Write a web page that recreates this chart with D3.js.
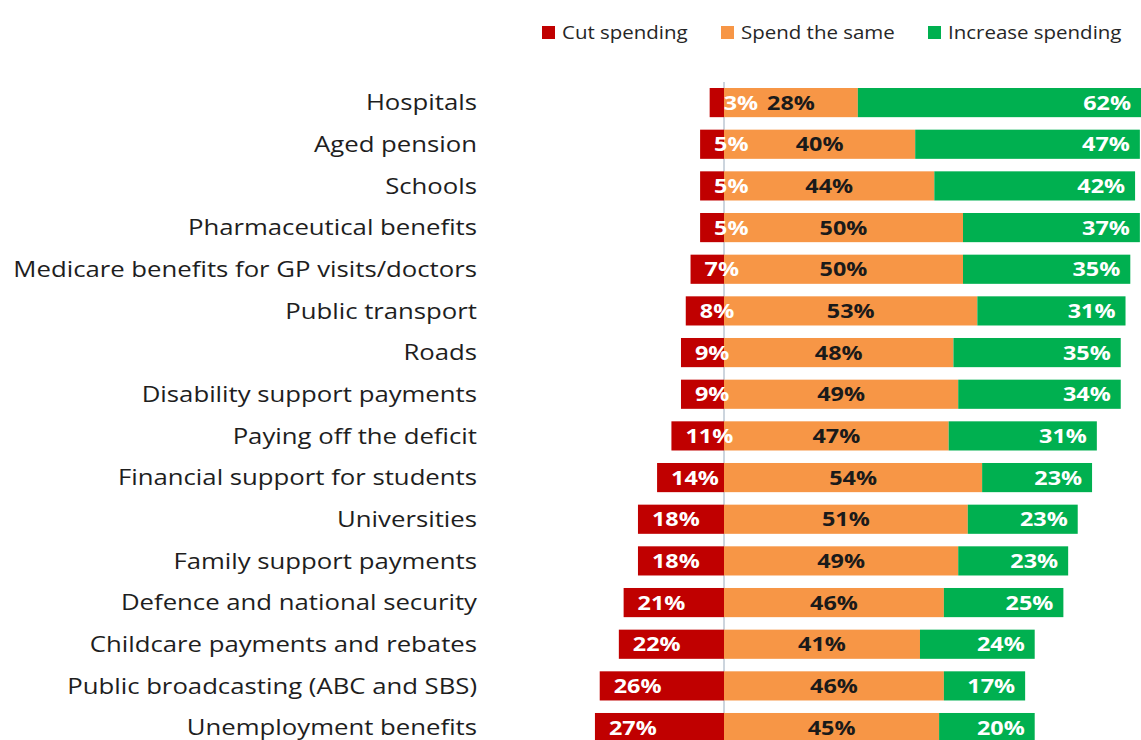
<!DOCTYPE html>
<html>
<head>
<meta charset="utf-8">
<script src="https://cdn.jsdelivr.net/npm/d3@7"></script>
<style>
  body { margin: 0; background: #fff; }
  svg { display: block; font-family: "Open Sans", Lato, sans-serif; }
</style>
</head>
<body>
<div class="chart_area"></div>
<script>
var categories = ["Hospitals", "Aged pension", "Schools", "Pharmaceutical benefits",
  "Medicare benefits for GP visits/doctors", "Public transport", "Roads",
  "Disability support payments ", "Paying off the deficit", "Financial support for students",
  "Universities", "Family support payments", "Defence and national security",
  "Childcare payments and rebates", "Public broadcasting (ABC and SBS)", "Unemployment benefits"];

var cut_spending      = [3, 5, 5, 5, 7, 8, 9, 9, 11, 14, 18, 18, 21, 22, 26, 27];
var spend_same        = [28, 40, 44, 50, 50, 53, 48, 49, 47, 54, 51, 49, 46, 41, 46, 45];
var increase_spending = [62, 47, 42, 37, 35, 31, 35, 34, 31, 23, 23, 23, 25, 24, 17, 20];

var series_names  = ["Cut spending", "Spend the same", "Increase spending"];
var series_colors = ["#c00000", "#f79646", "#00b050"];

var width = 1141, height = 740;

var svg = d3.select(".chart_area")
    .append("svg")
    .attr("width", width)
    .attr("height", height);

// the source picture is stretched sideways, so text gets a horizontal scale
var probe = svg.append("text")
    .style("font-size", "22px")
    .text(categories[4]);
var sx = 464 / probe.node().getComputedTextLength();
probe.remove();

function place(px, py) {
    return "translate(" + px + "," + py + ") scale(" + sx + ",1)";
}

// zero sits at x=724, about 4.78px per percent
var x = d3.scaleLinear()
    .domain([-30, 90])
    .range([724 - 30 * 4.78, 724 + 90 * 4.78]);

var y = d3.scaleBand()
    .domain(categories)
    .range([81.75, 748.4])
    .paddingInner(0.3)
    .paddingOuter(0.15);

var rows = categories.map(function(c, i) {
    return { name: c, cut: cut_spending[i], same: spend_same[i], inc: increase_spending[i] };
});

function mid(d) { return y(d.name) + y.bandwidth() / 2; }

// category labels
svg.append("g")
    .selectAll("text")
    .data(rows)
    .enter()
    .append("text")
    .attr("transform", function(d) { return place(477, mid(d)); })
    .attr("dy", "0.35em")
    .attr("text-anchor", "end")
    .style("font-size", "22px")
    .style("fill", "#1e1e1e")
    .text(function(d) { return d.name; });

// zero line
svg.append("line")
    .attr("x1", x(0)).attr("x2", x(0))
    .attr("y1", 82).attr("y2", height)
    .style("stroke", "#9aabbd")
    .style("stroke-width", 1);

var bars = svg.append("g");

bars.selectAll(".cut")
    .data(rows).enter().append("rect")
    .attr("x", function(d) { return x(-d.cut); })
    .attr("y", function(d) { return y(d.name); })
    .attr("width", function(d) { return x(0) - x(-d.cut); })
    .attr("height", y.bandwidth())
    .attr("fill", series_colors[0]);

bars.selectAll(".same")
    .data(rows).enter().append("rect")
    .attr("x", x(0))
    .attr("y", function(d) { return y(d.name); })
    .attr("width", function(d) { return x(d.same) - x(0); })
    .attr("height", y.bandwidth())
    .attr("fill", series_colors[1]);

bars.selectAll(".inc")
    .data(rows).enter().append("rect")
    .attr("x", function(d) { return x(d.same); })
    .attr("y", function(d) { return y(d.name); })
    .attr("width", function(d) { return x(d.same + d.inc) - x(d.same); })
    .attr("height", y.bandwidth())
    .attr("fill", series_colors[2]);

// value labels
var labels = svg.append("g")
    .style("font-size", "20px")
    .style("font-weight", "bold");

labels.selectAll(".lcut")
    .data(rows).enter().append("text")
    .attr("transform", function(d) { return place(x(-d.cut) + 14, mid(d)); })
    .attr("dy", "0.36em")
    .style("fill", "#fff")
    .text(function(d) { return d.cut + "%"; });

labels.selectAll(".lsame")
    .data(rows).enter().append("text")
    .attr("transform", function(d) { return place((x(0) + x(d.same)) / 2, mid(d)); })
    .attr("dy", "0.36em")
    .attr("text-anchor", "middle")
    .style("fill", "#1a1a1a")
    .text(function(d) { return d.same + "%"; });

labels.selectAll(".linc")
    .data(rows).enter().append("text")
    .attr("transform", function(d) { return place(Math.min(x(d.same + d.inc), width) - 10, mid(d)); })
    .attr("dy", "0.36em")
    .attr("text-anchor", "end")
    .style("fill", "#fff")
    .text(function(d) { return d.inc + "%"; });

// legend
var legend_x = [542, 721, 928];
var legend = svg.append("g")
    .selectAll("g")
    .data(series_names)
    .enter()
    .append("g")
    .attr("transform", function(d, i) { return "translate(" + legend_x[i] + ",26)"; });

legend.append("rect")
    .attr("width", 13).attr("height", 13)
    .attr("fill", function(d, i) { return series_colors[i]; });

legend.append("text")
    .attr("transform", place(20, 6.5))
    .attr("dy", "0.35em")
    .style("font-size", "17.5px")
    .style("fill", "#262626")
    .text(function(d) { return d; });
</script>
</body>
</html>
